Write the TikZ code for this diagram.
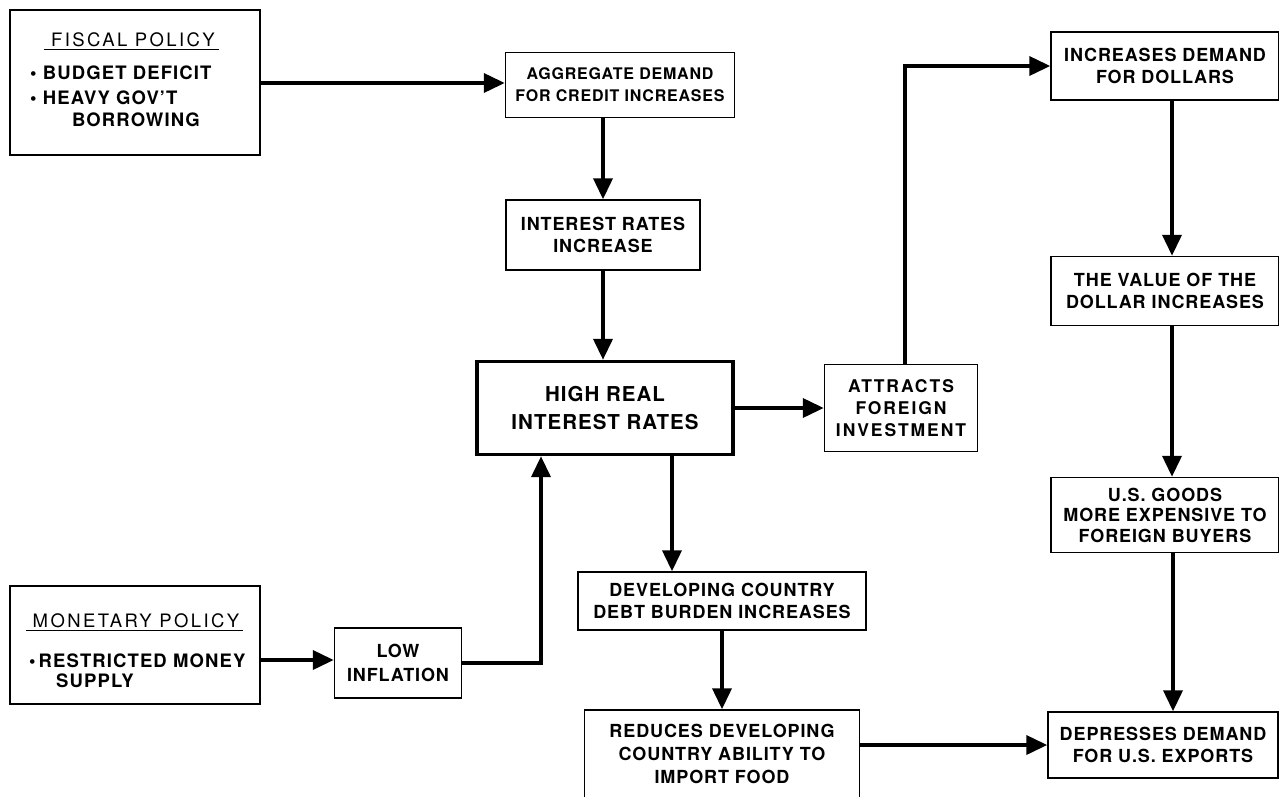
\documentclass[tikz,border=0pt]{standalone}
\usepackage{fontspec}
\setmainfont{TeX Gyre Heros}[LetterSpace=5]
\usetikzlibrary{arrows.meta,positioning,calc}
\tikzstyle{flowbox}=[draw, line width=1.5pt, align=center, inner sep=0pt, font=\bfseries\fontsize{18}{22}\selectfont]
\tikzstyle{flowarrow}=[-{Triangle[length=21pt,width=19pt]}, line width=3.8pt]
\tikzstyle{plain}=[inner sep=1pt, anchor=west, font=\bfseries\fontsize{18.5}{22}\selectfont\addfontfeature{LetterSpace=6}]
\tikzstyle{boxtitle}=[inner sep=2pt, font=\fontsize{18.5}{22}\selectfont\addfontfeature{LetterSpace=13}]

\begin{document}
\begin{tikzpicture}[x=1pt, y=-1pt]
    \useasboundingbox (0,0) rectangle (1279,796) ;
    \clip (0,0) rectangle (1279,796) ;
    % policy boxes
    \node[flowbox, minimum width=250, minimum height=145] (fiscal) at (135,82.5) {} ;
    \node[boxtitle] (fiscaltitle) at (133,40) {FISCAL POLICY} ;
    \draw[line width=1.4pt] ([xshift=-5]fiscaltitle.south west) -- ([xshift=2]fiscaltitle.south east) ;
    \node[plain] (deficit) at (29,73) {\textbullet\ BUDGET DEFICIT} ;
    \node[plain] (borrow) at (29,98) {\textbullet\ HEAVY GOV'T} ;
    \node[plain] (borrow2) at (71,120) {BORROWING} ;
    \node[flowbox, minimum width=250, minimum height=118] (monetary) at (135,645) {} ;
    \node[boxtitle] (montitle) at (136,621) {MONETARY POLICY} ;
    \draw[line width=1.4pt] ([xshift=-5]montitle.south west) -- ([xshift=2]montitle.south east) ;
    \node[plain] (restrict) at (28,661) {\textbullet\,RESTRICTED MONEY} ;
    \node[plain] (supply) at (55,681) {SUPPLY} ;
    % chain
    \node[flowbox, minimum width=229, minimum height=65, font=\bfseries\fontsize{16}{22}\selectfont] (agg) at (620,85) {AGGREGATE DEMAND\\FOR CREDIT INCREASES} ;
    \node[flowbox, minimum width=194, minimum height=70] (intinc) at (603,235) {INTEREST RATES\\INCREASE} ;
    \node[flowbox, line width=3.4pt, minimum width=256, minimum height=93, font=\bfseries\fontsize{20.5}{28}\selectfont] (high) at (605,408) {HIGH REAL\\INTEREST RATES} ;
    \node[flowbox, minimum width=153, minimum height=87, font=\bfseries\fontsize{17.5}{22}\selectfont\addfontfeature{LetterSpace=11}] (attract) at (901,408) {ATTRACTS\\FOREIGN\\INVESTMENT} ;
    \node[flowbox, minimum width=228, minimum height=68] (incdem) at (1165,66) {INCREASES DEMAND\\FOR DOLLARS} ;
    \node[flowbox, minimum width=228, minimum height=69] (value) at (1165,291) {THE VALUE OF THE\\DOLLAR INCREASES} ;
    \node[flowbox, minimum width=228, minimum height=75, font=\bfseries\fontsize{18}{20.5}\selectfont] (usgoods) at (1165,515) {U.S. GOODS\\MORE EXPENSIVE TO\\FOREIGN BUYERS} ;
    \node[flowbox, minimum width=230, minimum height=66] (depress) at (1163,745) {DEPRESSES DEMAND\\FOR U.S. EXPORTS} ;
    \node[flowbox, minimum width=288, minimum height=58] (debt) at (722,601) {DEVELOPING COUNTRY\\DEBT BURDEN INCREASES} ;
    \node[flowbox, minimum width=275, minimum height=88, font=\bfseries\fontsize{18}{23}\selectfont] (reduces) at (722,754) {REDUCES DEVELOPING\\COUNTRY ABILITY TO\\IMPORT FOOD} ;
    \node[flowbox, minimum width=127, minimum height=70, font=\bfseries\fontsize{18}{24}\selectfont] (lowinf) at (398,663) {LOW\\INFLATION} ;
    % connectors
    \draw[flowarrow] (fiscal.east |- 0,83) -- (agg.west |- 0,83) ;
    \draw[flowarrow] (agg.south -| intinc) -- (intinc.north) ;
    \draw[flowarrow] (intinc.south) -- (intinc.south |- high.north) ;
    \draw[flowarrow] (high.east) -- (attract.west) ;
    \draw[flowarrow] ([xshift=4]attract.north) |- (incdem.west) ;
    \draw[flowarrow] ([xshift=7]incdem.south) -- ([xshift=7]value.north) ;
    \draw[flowarrow] ([xshift=7]value.south) -- ([xshift=7]usgoods.north) ;
    \draw[flowarrow] ([xshift=8]usgoods.south) -- ([xshift=8]usgoods.south |- depress.north) ;
    \draw[flowarrow] ([xshift=67]high.south) -- ([xshift=67]high.south |- debt.north) ;
    \draw[flowarrow] (debt.south) -- (debt.south |- reduces.north) ;
    \draw[flowarrow] (reduces.east |- depress.west) -- (depress.west) ;
    \draw[flowarrow] (monetary.east |- 0,660) -- (lowinf.west |- 0,660) ;
    \draw[flowarrow] (lowinf.east) -| ([xshift=-64]high.south) ;
\end{tikzpicture}
\end{document}
